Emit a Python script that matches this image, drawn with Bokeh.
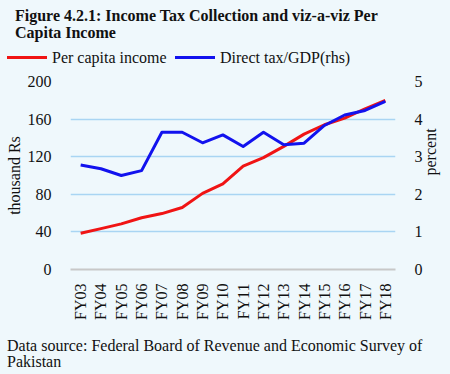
import math
from bokeh.plotting import figure
from bokeh.layouts import column
from bokeh.models import Range1d, LinearAxis, FactorRange, FixedTicker, Div
from bokeh.embed import file_html
from bokeh.resources import INLINE

# ---- data ----
years = ["FY03", "FY04", "FY05", "FY06", "FY07", "FY08", "FY09", "FY10",
         "FY11", "FY12", "FY13", "FY14", "FY15", "FY16", "FY17", "FY18"]
per_capita_income = [38.6, 43.5, 48.5, 55, 59.5, 66, 81, 91,
                     110, 119, 131, 144, 154, 161, 171, 180]
direct_tax_gdp = [2.78, 2.68, 2.50, 2.63, 3.65, 3.65, 3.37, 3.58,
                  3.27, 3.65, 3.32, 3.36, 3.83, 4.11, 4.23, 4.47]
left_ticks = [0, 40, 80, 120, 160, 200]
right_ticks = [0, 1, 2, 3, 4, 5]
series_names = ["Per capita income", "Direct tax/GDP(rhs)"]
title_lines = ["Figure 4.2.1: Income Tax Collection and viz-a-viz Per",
               "Capita Income"]
source_lines = ["Data source: Federal Board of Revenue and Economic Survey of",
                "Pakistan"]

BG = "#EFF8FC"
FONT = "Liberation Serif"
TXT = "#111111"
RED = "#F01414"
BLUE = "#1212EE"
W = 450
HEAD_H, MAIN_H, FOOT_H = 68, 257, 49

base = ("position:absolute;white-space:nowrap;font-family:'%s';font-size:16px;"
        "color:%s;margin:0;padding:0;" % (FONT, TXT))

# ---- header: title + legend ----
head_html = ('<div style="position:relative;width:%dpx;height:%dpx;">' % (W, HEAD_H)
             + '<div style="%sleft:15px;top:7px;line-height:17px;font-weight:bold;">%s<br>%s</div>'
             % (base, title_lines[0], title_lines[1])
             + '<div style="position:absolute;left:7px;top:56px;width:40px;height:3px;background:%s;"></div>' % RED
             + '<div style="%sleft:52px;top:49px;line-height:17px;">%s</div>' % (base, series_names[0])
             + '<div style="position:absolute;left:175px;top:56px;width:40px;height:3px;background:%s;"></div>' % BLUE
             + '<div style="%sleft:220px;top:49px;line-height:17px;">%s</div>' % (base, series_names[1])
             + '</div>')
head = Div(text=head_html, width=W, height=HEAD_H, margin=0)

# ---- main chart ----
p = figure(width=W, height=MAIN_H, x_range=FactorRange(*years, range_padding=0),
           y_range=Range1d(0, 200), output_backend="svg", toolbar_location=None,
           background_fill_color=BG, border_fill_color=BG, title=None,
           min_border_left=70, min_border_right=54, min_border_top=13,
           min_border_bottom=56)
p.outline_line_color = None
p.extra_y_ranges = {"pct": Range1d(0, 5)}

p.line(years, per_capita_income, line_color=RED, line_width=3, line_join="round")
p.line(years, direct_tax_gdp, line_color=BLUE, line_width=3, line_join="round",
       y_range_name="pct")

p.yaxis.ticker = FixedTicker(ticks=left_ticks)
p.yaxis.axis_label = "thousand Rs"
right = LinearAxis(y_range_name="pct", ticker=FixedTicker(ticks=right_ticks),
                   axis_label="percent")
right.axis_label_orientation = math.pi / 2
p.add_layout(right, "right")

for ax in [p.yaxis[0], right]:
    ax.axis_line_color = None
    ax.major_tick_line_color = None
    ax.minor_tick_line_color = None
    ax.major_label_text_font = FONT
    ax.major_label_text_font_size = "16px"
    ax.major_label_text_color = TXT
    ax.axis_label_text_font = FONT
    ax.axis_label_text_font_size = "16px"
    ax.axis_label_text_font_style = "normal"
    ax.axis_label_text_color = TXT
    ax.major_label_standoff = 13
p.yaxis[0].axis_label_standoff = 2
right.axis_label_standoff = 5

xa = p.xaxis[0]
xa.axis_line_color = "#C8C8C8"
xa.axis_line_width = 2
xa.major_tick_line_color = None
xa.minor_tick_line_color = None
xa.major_label_orientation = math.pi / 2
xa.major_label_text_font = FONT
xa.major_label_text_font_size = "16px"
xa.major_label_text_color = TXT
xa.major_label_standoff = 8

p.xgrid.grid_line_color = None
p.ygrid.grid_line_color = "#A9D5F3"
p.ygrid.grid_line_width = 1.5

# ---- footer: data source ----
foot_html = ('<div style="position:relative;width:%dpx;height:%dpx;">' % (W, FOOT_H)
             + '<div style="%sleft:7px;top:13px;line-height:16px;">%s<br>%s</div>'
             % (base, source_lines[0], source_lines[1])
             + '</div>')
foot = Div(text=foot_html, width=W, height=FOOT_H, margin=0)

layout = column(head, p, foot, spacing=0)
html = file_html(layout, INLINE)
html = html.replace("</head>",
                    "<style>html,body{background-color:%s;}</style></head>" % BG, 1)
open("out.html", "w").write(html)
